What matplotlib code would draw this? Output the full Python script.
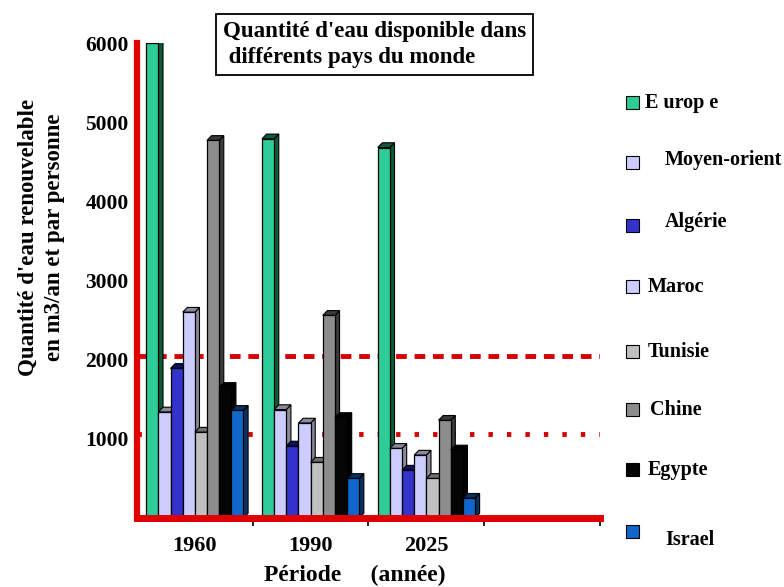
import matplotlib
matplotlib.use("Agg")
import matplotlib.pyplot as plt
from matplotlib.patches import Polygon, Rectangle
import numpy as np

# Données : quantité d'eau renouvelable (m3/an/personne)
periods = ["1960", "1990", "2025"]
countries = ["Europe", "Moyen-orient", "Algérie", "Maroc",
             "Tunisie", "Chine", "Egypte", "Israel"]
legend_labels = ["E urop e", "Moyen-orient", "Algérie", "Maroc",
                 "Tunisie", "Chine", "Egypte", "Israel"]
europe = [6000, 4790, 4680]
moyen_orient = [1340, 1370, 880]
algerie = [1890, 910, 605]
maroc = [2600, 1200, 795]
tunisie = [1085, 705, 500]
chine = [4770, 2560, 1235]
egypte = [1650, 1270, 860]
israel = [1360, 500, 250]
series = [europe, moyen_orient, algerie, maroc, tunisie, chine, egypte, israel]
thresholds = [2050, 1060]
yticks = [1000, 2000, 3000, 4000, 5000, 6000]

face_colors = ["#2ECC98", "#CCCCFF", "#3333CC", "#CCCCFF",
               "#C0C0C0", "#8C8C8C", "#050505", "#1166CC"]
side_colors = ["#0E5A3A", "#8A8A99", "#101060", "#8A8A99",
               "#707070", "#3A3A3A", "#000000", "#0A3060"]

plt.rcParams["font.family"] = ["Liberation Serif", "DejaVu Serif"]
plt.rcParams["font.weight"] = "bold"

fig = plt.figure(figsize=(7.84, 5.87), dpi=100)
ax = fig.add_axes([0.1747, 0.1175, 0.5906, 0.8092])
ax.set_xlim(0, 4)
ax.set_ylim(0, 6000)

red = "#E00000"

# seuils en pointillés rouges (derrière les barres)
ax.axhline(thresholds[0], color="#D40000", lw=3.5, ls=(0, (2.2, 1.6)), zorder=1)
ax.axhline(thresholds[1], color="#D40000", lw=3.5, ls=(0, (0.9, 2.9)), zorder=1)

bar_w = 0.105
depth_x = 0.04
depth_y = 60
n = len(series)
group_x = np.arange(len(periods)) + 0.5

for i, (vals, fc, sc) in enumerate(zip(series, face_colors, side_colors)):
    xs = group_x - n * bar_w / 2 + i * bar_w
    for x0, h in zip(xs, vals):
        z = 3 + i * 0.1
        side = Polygon([(x0 + bar_w, 0), (x0 + bar_w + depth_x, depth_y),
                        (x0 + bar_w + depth_x, h + depth_y), (x0 + bar_w, h)],
                       closed=True, facecolor=sc, edgecolor="black", lw=0.8, zorder=z)
        top = Polygon([(x0, h), (x0 + depth_x, h + depth_y),
                       (x0 + bar_w + depth_x, h + depth_y), (x0 + bar_w, h)],
                      closed=True, facecolor=sc, edgecolor="black", lw=0.8, zorder=z)
        ax.add_patch(side)
        ax.add_patch(top)
        ax.bar(x0, h, width=bar_w, align="edge", color=fc,
               edgecolor="black", linewidth=0.9, zorder=z + 0.05)

# axes
for s in ["top", "right"]:
    ax.spines[s].set_visible(False)
ax.spines["left"].set_color(red)
ax.spines["left"].set_linewidth(4.5)
ax.spines["bottom"].set_color(red)
ax.spines["bottom"].set_linewidth(5)
ax.spines["left"].set_zorder(6)
ax.spines["bottom"].set_zorder(6)

ax.set_yticks(yticks)
ax.set_yticklabels([str(v) for v in yticks], fontsize=15.5, fontweight="bold")
ax.tick_params(axis="y", length=0, pad=6)

ax.set_xticks(group_x)
ax.set_xticklabels(periods, fontsize=16, fontweight="bold")
ax.tick_params(axis="x", which="major", length=0, pad=13)
ax.set_xticks([1, 2, 3, 4], minor=True)
ax.tick_params(axis="x", which="minor", length=6, width=1.2, color="black",
               direction="out")

# titre encadré
fig.text(0.2845, 0.924, "Quantité d'eau disponible dans\n différents pays du monde",
         fontsize=16.5, fontweight="bold", ha="left", va="center",
         linespacing=1.32,
         bbox=dict(boxstyle="square,pad=0.3", facecolor="white",
                   edgecolor="black", linewidth=1.3))

# titre de l'axe vertical
fig.text(0.053, 0.596, "Quantité d'eau renouvelable\nen m3/an et par personne",
         rotation=90, fontsize=16.5, fontweight="bold", ha="center", va="center",
         linespacing=1.3)

# titre de l'axe horizontal
fig.text(0.452, 0.019, "Période     (année)", fontsize=17, fontweight="bold",
         ha="center", va="center")

# légende
legend_y = [103, 163, 226, 287, 352, 410, 470, 532]
text_y = [103, 160, 222, 287, 352, 410, 470, 540]
text_x = [645, 665, 665, 648, 648, 650, 648, 665]
W, H = 784, 587
for lab, fc, ly, ty, tx in zip(legend_labels, face_colors, legend_y, text_y, text_x):
    fig.patches.append(Rectangle((626 / W, 1 - (ly + 6) / H), 13 / W, 13 / H,
                                 transform=fig.transFigure, facecolor=fc,
                                 edgecolor="black", linewidth=0.8))
    fig.text(tx / W, 1 - ty / H, lab, fontsize=14.5, fontweight="bold",
             ha="left", va="center")

fig.savefig("out.png", dpi=100)
